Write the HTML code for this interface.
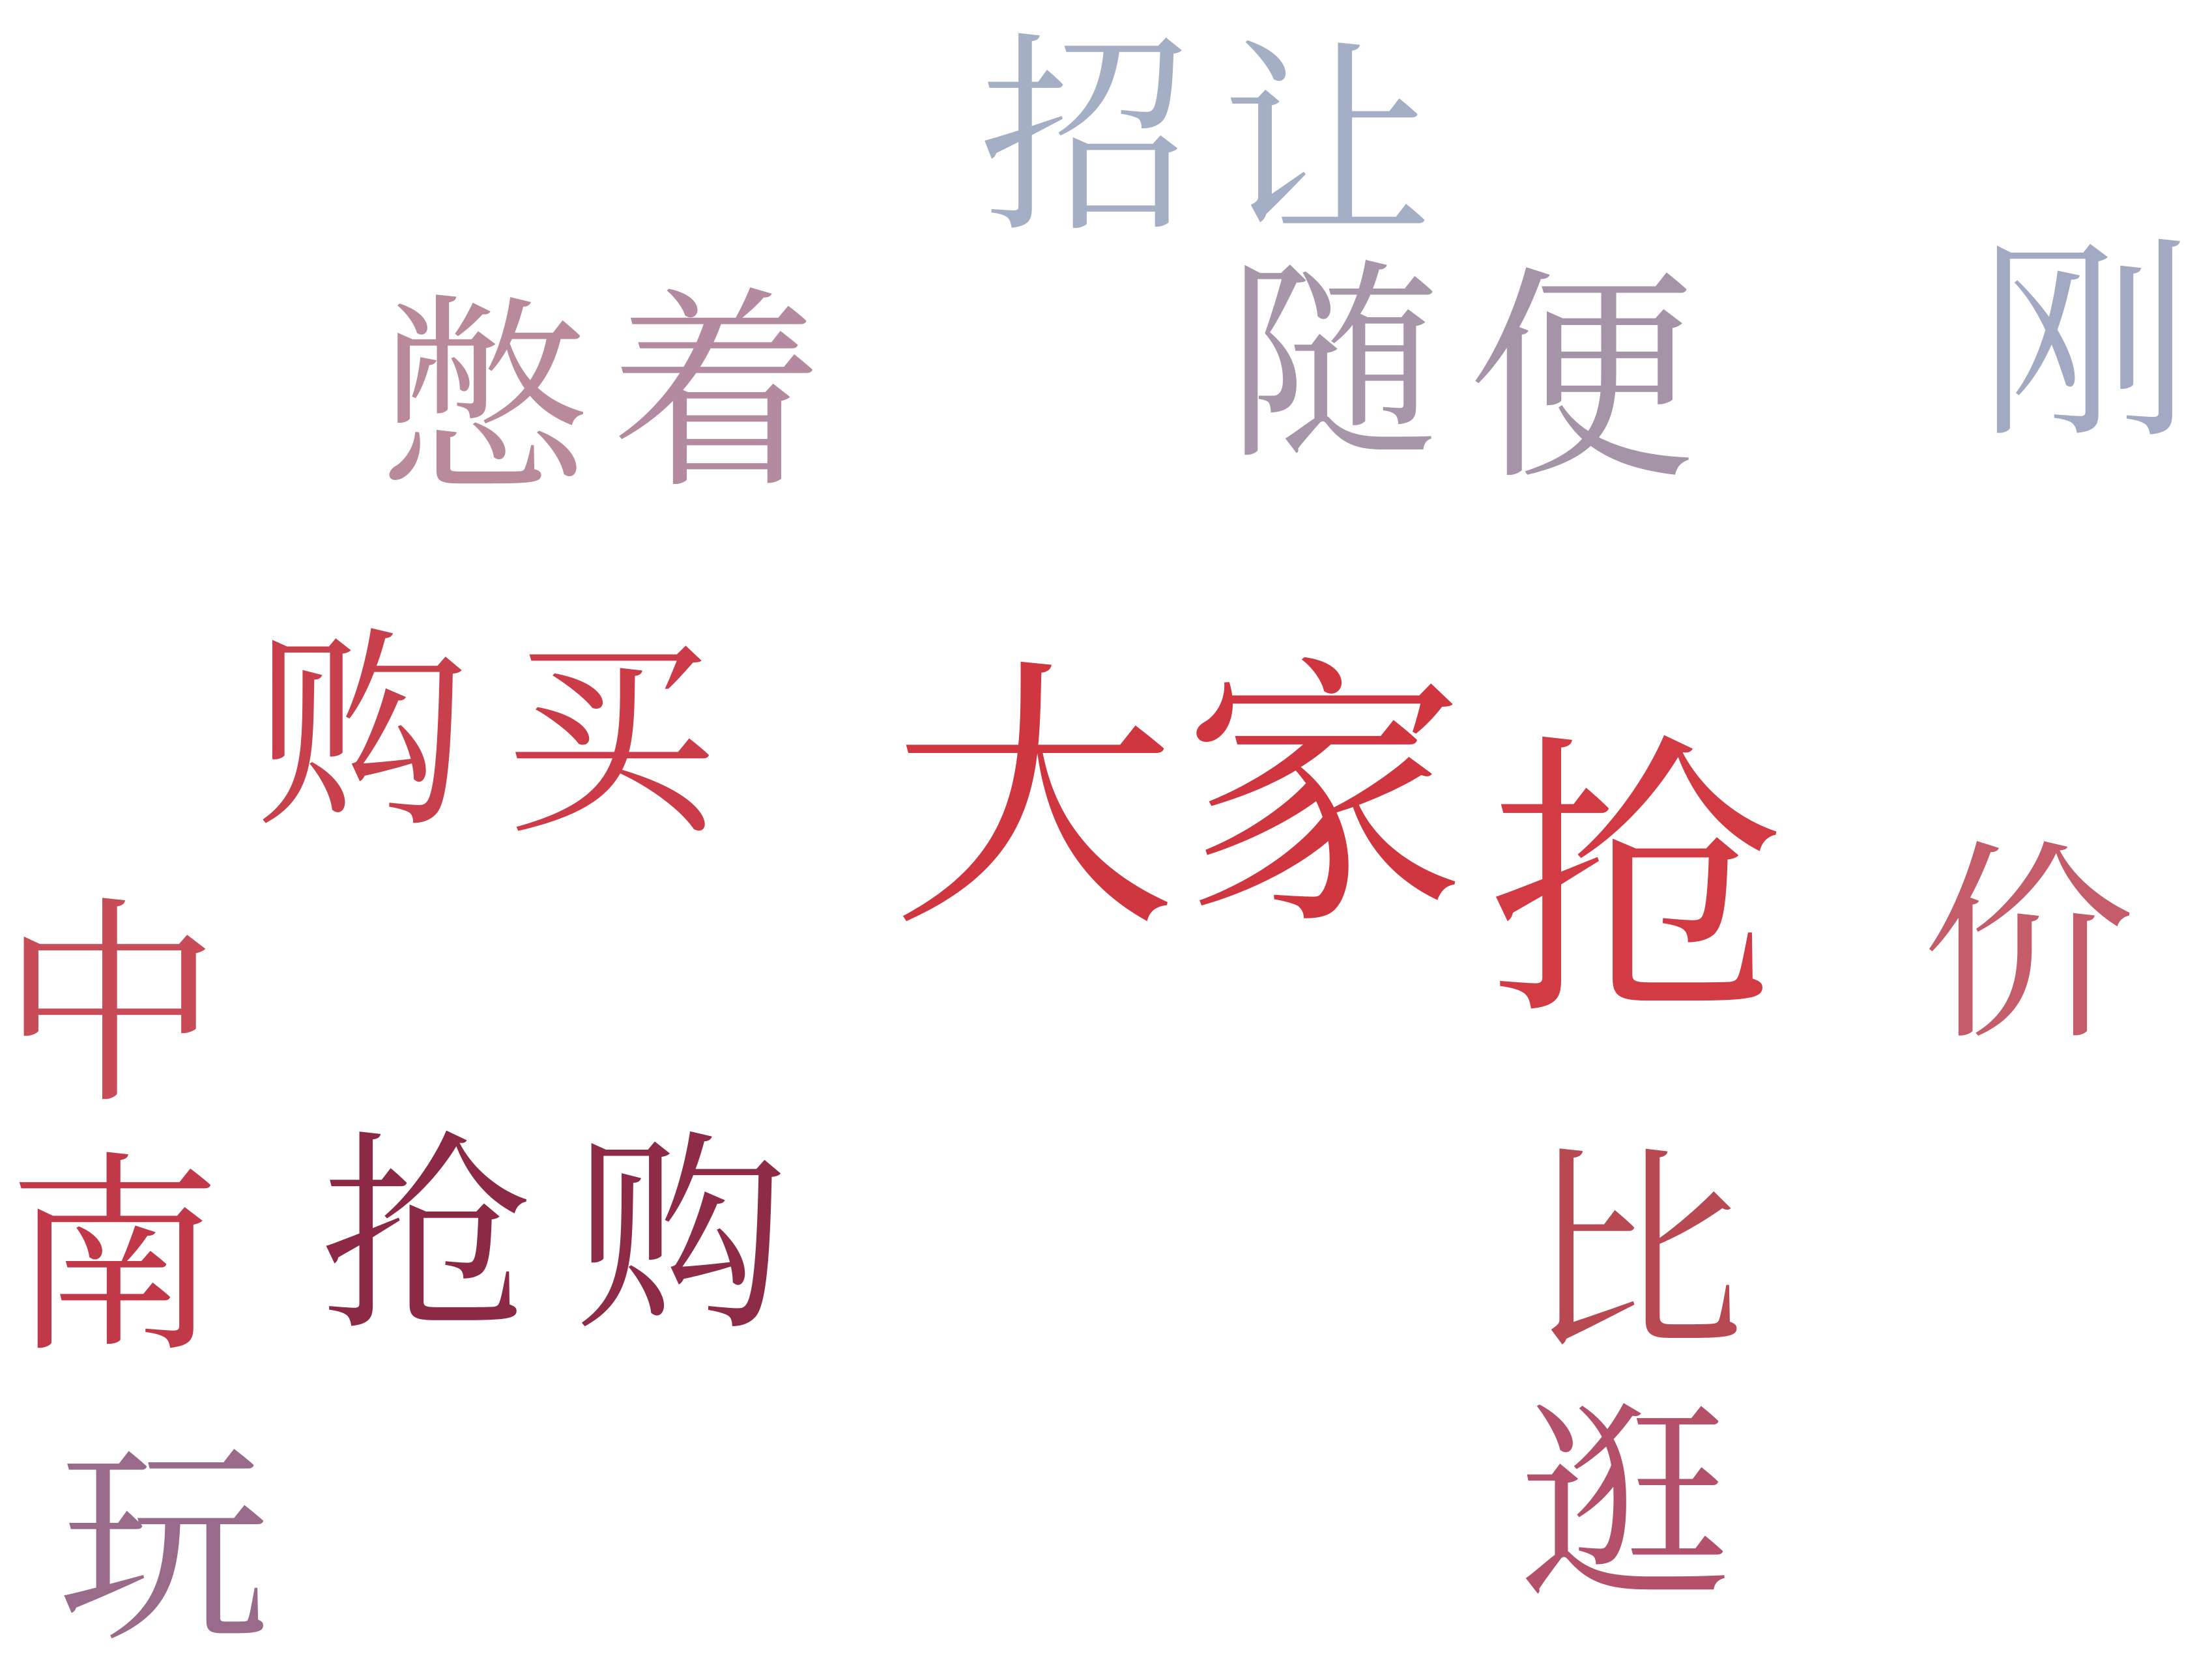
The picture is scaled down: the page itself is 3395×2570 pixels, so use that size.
<!DOCTYPE html>
<html><head><meta charset="utf-8"><style>
html,body{margin:0;padding:0;background:#fff;width:3395px;height:2570px;overflow:hidden}
svg text{font-family:"Liberation Serif","Noto Serif CJK SC",serif}
</style></head><body>
<svg id="cloud" width="3395" height="2570" viewBox="0 0 1560 1181" xmlns="http://www.w3.org/2000/svg"></svg>
<script>
const chars=["招","让","憋","着","随","便","刚","购","买","大","家","抢","价","中","南","抢","购","比","逛","玩"];
const xs=[695,865,270,435,870,1040,1400,185,360,635,840,1055,1360,5,10,230,410,1080,1075,45];
const tops=[20,25,205,200,180,185,165,440,445,462,460,515,590,630,810,795,795,805,985,1015];
const sizes=[150,150,150,150,150,160,150,150,150,200,200,210,150,155,150,150,150,155,150,150];
const colors=["#a4afc6","#a4afc6","#b88a9c","#b48aa0","#a796aa","#a593a8","#a2a9c2","#c8404c","#cc3c48","#d0363f","#d0363f","#d23a44","#c45c6a","#c84c58","#c13848","#8c2a45","#8e2c48","#b84852","#b4506a","#9a6a8a"];
const svg=document.getElementById('cloud');
for(let i=0;i<chars.length;i++){
  const t=document.createElementNS('http://www.w3.org/2000/svg','text');
  t.setAttribute('x',xs[i]-sizes[i]*0.03);
  t.setAttribute('y',tops[i]+sizes[i]*0.86);
  t.setAttribute('font-size',sizes[i]);
  t.setAttribute('fill',colors[i]);
  t.textContent=chars[i];
  
  
  svg.appendChild(t);
}
</script>
</body></html>
